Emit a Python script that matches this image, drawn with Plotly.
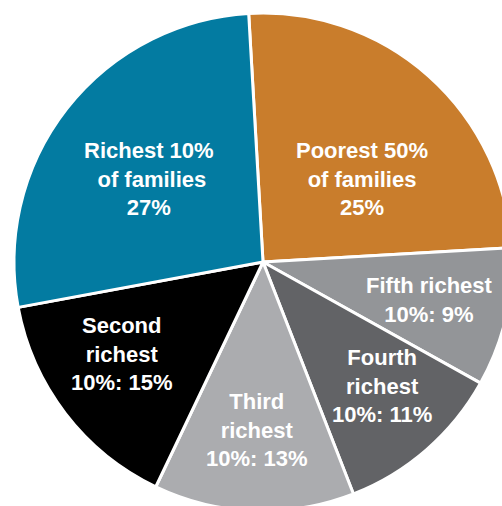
import plotly.graph_objects as go

# Data
categories = ["Poorest 50% of families", "Fifth richest 10%", "Fourth richest 10%",
              "Third richest 10%", "Second richest 10%", "Richest 10% of families"]
shares = [25, 9, 11, 13, 15, 27]
label_texts = [
    "Poorest 50%<br>of families<br>25%",
    "Fifth richest<br>10%: 9%",
    "Fourth<br>richest<br>10%: 11%",
    "Third<br>richest<br>10%: 13%",
    "Second<br>richest<br>10%: 15%",
    "Richest 10%<br> of families<br>27%",
]

colors = ["#C97D2C", "#939598", "#626366", "#ABACAF", "#000000", "#037BA1"]

W, H = 526, 511
# label centre positions in pixels (x, y from top)
label_px = [(362, 179), (429, 300), (382, 386), (257, 430), (122, 354), (149, 179)]

fig = go.Figure(go.Pie(
    labels=categories,
    values=shares,
    sort=False,
    direction="clockwise",
    rotation=-3.3,
    marker=dict(colors=colors, line=dict(color="white", width=3)),
    textinfo="none",
    hoverinfo="skip",
    showlegend=False,
    domain=dict(x=[0, 1], y=[0, 498 / H]),
))

for txt, (px, py) in zip(label_texts, label_px):
    fig.add_annotation(
        x=px / W, y=1 - py / H, xref="paper", yref="paper",
        text=txt, showarrow=False, xanchor="center", yanchor="middle",
        align="center",
        font=dict(family="Liberation Sans, Arial, sans-serif", size=22,
                  color="white", weight="bold"),
    )

fig.update_layout(
    width=W, height=H,
    margin=dict(l=0, r=0, t=0, b=0),
    paper_bgcolor="white",
    plot_bgcolor="white",
)

fig.write_html(
    "out.html",
    config={"displayModeBar": False},
    post_script="document.documentElement.style.overflow='hidden';"
                "document.body.style.overflow='hidden';"
                "document.body.style.margin='0';",
)
